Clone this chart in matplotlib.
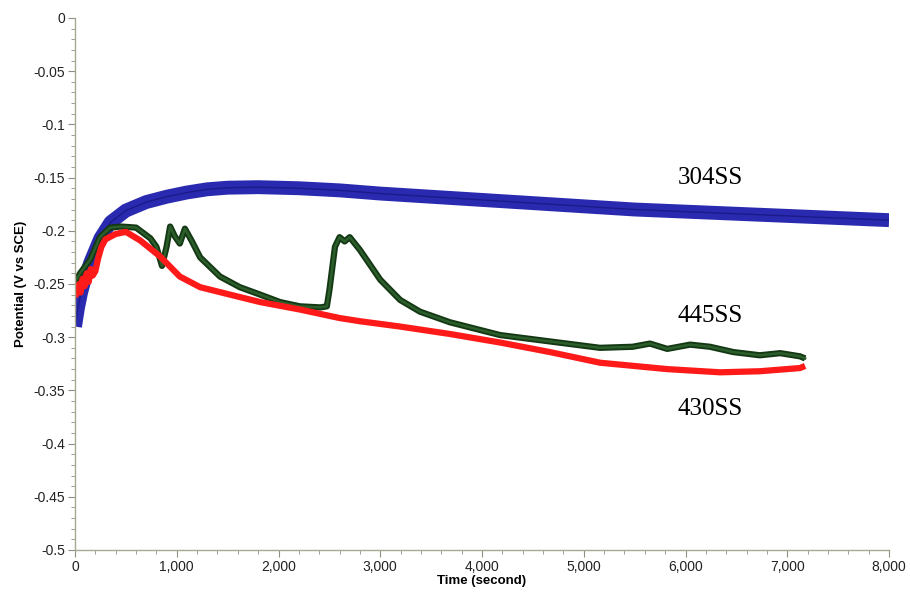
import matplotlib
matplotlib.use("Agg")
import matplotlib.pyplot as plt
from matplotlib.ticker import MultipleLocator, FuncFormatter

# 304SS (blue)
t_304 = [0, 30, 60, 100, 150, 250, 350, 500, 700, 900, 1100, 1300, 1500, 1800,
         2200, 2600, 3000, 3500, 4000, 4500, 5000, 5500, 6000, 6500, 7000, 7500, 8000]
e_304 = [-0.29, -0.272, -0.258, -0.244, -0.23, -0.207, -0.192, -0.181, -0.173,
         -0.168, -0.164, -0.161, -0.1595, -0.159, -0.160, -0.162, -0.165, -0.168,
         -0.171, -0.174, -0.177, -0.180, -0.182, -0.184, -0.186, -0.188, -0.190]

# 445SS (green)
t_445 = [0, 50, 150, 245, 345, 450, 600, 740, 800, 855, 900, 935, 980, 1030, 1080,
         1150, 1230, 1425, 1620, 1820, 2015, 2210, 2410, 2475, 2500, 2555, 2600,
         2650, 2700, 2800, 3000, 3195, 3390, 3685, 4177, 4668, 5160, 5480, 5650,
         5820, 6045, 6240, 6470, 6730, 6930, 7125, 7175]
e_445 = [-0.248, -0.240, -0.227, -0.206, -0.197, -0.196, -0.197, -0.207, -0.215,
         -0.233, -0.215, -0.196, -0.205, -0.212, -0.198, -0.210, -0.225, -0.243,
         -0.253, -0.260, -0.267, -0.271, -0.272, -0.271, -0.256, -0.215, -0.206,
         -0.210, -0.206, -0.218, -0.246, -0.265, -0.276, -0.286, -0.298, -0.304,
         -0.310, -0.309, -0.306, -0.311, -0.307, -0.309, -0.314, -0.317, -0.315,
         -0.318, -0.320]

# 430SS (red)
t_430 = [0, 20, 40, 55, 75, 95, 115, 135, 155, 175, 200, 230, 260, 300, 400, 500,
         640, 835, 1030, 1230, 1523, 1820, 2210, 2600, 2800, 3195, 3685, 4177,
         4668, 5160, 5820, 6340, 6730, 7125, 7175]
e_430 = [-0.262, -0.258, -0.250, -0.258, -0.245, -0.252, -0.240, -0.248, -0.236,
         -0.242, -0.238, -0.225, -0.215, -0.208, -0.203, -0.201, -0.209, -0.224,
         -0.243, -0.253, -0.260, -0.267, -0.274, -0.282, -0.285, -0.290, -0.297,
         -0.305, -0.314, -0.324, -0.330, -0.333, -0.332, -0.329, -0.327]

labels = ["304SS", "445SS", "430SS"]
label_xy = [(6240, -0.150), (6240, -0.280), (6240, -0.3675)]

fig = plt.figure(figsize=(9.1, 5.94), dpi=100)
ax = fig.add_axes([0.0824, 0.0741, 0.8946, 0.8956])

ax.plot(t_304, e_304, color="#2a2ab0", lw=10, solid_capstyle="butt",
        solid_joinstyle="round")
ax.plot(t_304, e_304, color="#101070", lw=1, alpha=0.6)
ax.plot(t_445, e_445, color="#143814", lw=4.5, solid_capstyle="butt",
        solid_joinstyle="round")
ax.plot(t_445, e_445, color="#2c5e2c", lw=1.8)
ax.plot(t_430, e_430, color="#ff1a1a", lw=4.5, solid_capstyle="butt",
        solid_joinstyle="round")

for txt, (x, y) in zip(labels, label_xy):
    ax.text(x, y, txt, family="Liberation Serif", fontsize=18,
            ha="center", va="center", color="black")

ax.set_xlim(0, 8000)
ax.set_ylim(-0.5, 0)
ax.xaxis.set_major_locator(MultipleLocator(1000))
ax.xaxis.set_minor_locator(MultipleLocator(200))
ax.yaxis.set_major_locator(MultipleLocator(0.05))
ax.yaxis.set_minor_locator(MultipleLocator(0.01))
ax.xaxis.set_major_formatter(FuncFormatter(lambda v, p: f"{int(v):,}"))
ax.yaxis.set_major_formatter(FuncFormatter(lambda v, p: f"{v:g}" if abs(v) > 1e-9 else "0"))

for s in ["top", "right"]:
    ax.spines[s].set_visible(False)
for s in ["left", "bottom"]:
    ax.spines[s].set_color("#a8a890")
    ax.spines[s].set_linewidth(1)
ax.tick_params(which="major", length=5, color="#909080", labelsize=10,
               labelcolor="#222222", pad=2)
ax.tick_params(which="minor", length=3, color="#909080")

ax.set_xlabel("Time (second)", fontsize=9.5, fontweight="bold", labelpad=1,
              family="Liberation Sans")
ax.set_ylabel("Potential (V vs SCE)", fontsize=9.5, fontweight="bold", labelpad=5,
              family="Liberation Sans")
for lab in ax.get_xticklabels() + ax.get_yticklabels():
    lab.set_family("Liberation Sans")

fig.savefig("out.png", dpi=100)
